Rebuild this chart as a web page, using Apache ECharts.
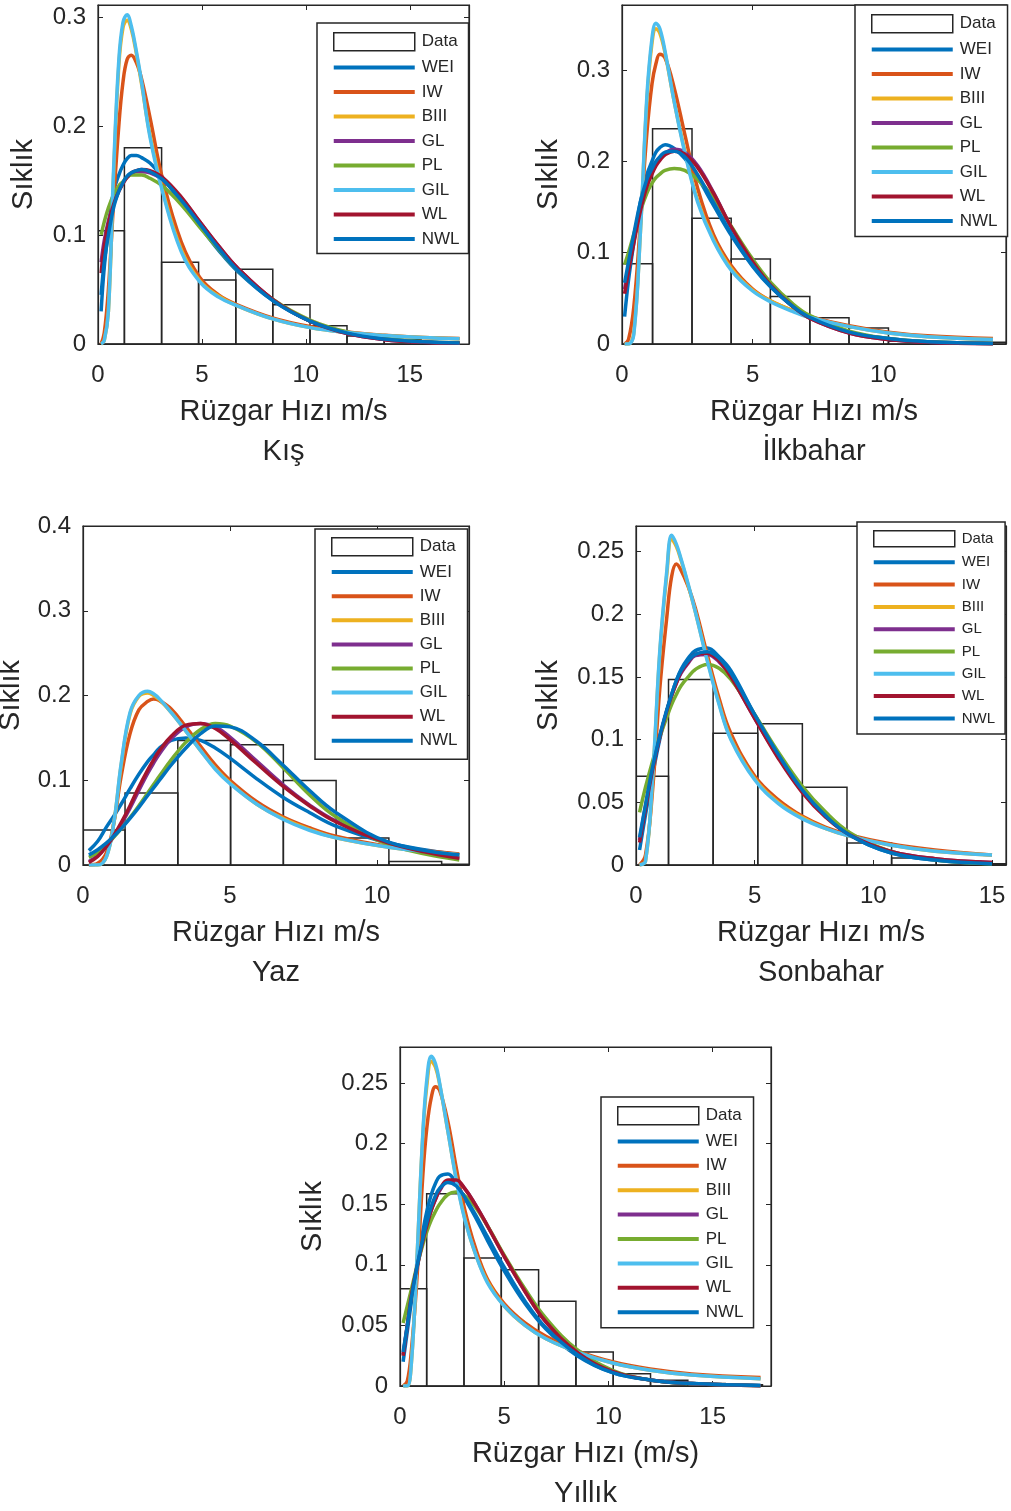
<!DOCTYPE html>
<html><head><meta charset="utf-8">
<script src="https://cdn.jsdelivr.net/npm/echarts@6/dist/echarts.min.js"></script>
<style>html,body{margin:0;padding:0;background:#fff}#c{width:1011px;height:1511px}</style>
</head><body><div id="c"></div>
<script>
// ---------- data ----------
const seriesNames = ['WEI','IW','BIII','GL','PL','GIL','WL','NWL'];
const xTicks = [0, 5, 10, 15];

// Kış
const kisBinEdges = [0, 1.27, 3.06, 4.84, 6.63, 8.41, 10.2, 11.98, 13.77, 15.55, 17.34];
const kisBinHeights = [0.104, 0.180, 0.075, 0.0587, 0.0685, 0.036, 0.0168, 0.0073, 0.004, 0.002];
const kisX   = [0.15,0.3,0.5,0.75,1.0,1.2,1.4,1.6,1.85,2.1,2.5,3.1,4.0,4.9,5.8,6.7,8.4,10.2,12.0,13.8,15.6,17.4];
const kisWEI = [0.03,0.07,0.105,0.14,0.155,0.164,0.17,0.173,0.173,0.171,0.166,0.153,0.13,0.108,0.086,0.067,0.04,0.021,0.010,0.0045,0.002,0.001];
const kisIW  = [0,0.01,0.05,0.13,0.2,0.24,0.261,0.265,0.258,0.243,0.208,0.152,0.094,0.061,0.045,0.036,0.024,0.016,0.011,0.008,0.006,0.005];
const kisBIII= [0,0.003,0.03,0.155,0.255,0.29,0.297,0.289,0.266,0.238,0.192,0.142,0.087,0.058,0.044,0.035,0.023,0.015,0.0105,0.0078,0.006,0.0048];
const kisGL  = [0.075,0.095,0.113,0.13,0.141,0.148,0.153,0.156,0.158,0.158,0.157,0.151,0.134,0.112,0.09,0.07,0.041,0.021,0.0095,0.004,0.0016,0.0006];
const kisPL  = [0.1,0.112,0.125,0.137,0.145,0.149,0.153,0.155,0.155,0.155,0.152,0.145,0.128,0.107,0.087,0.068,0.041,0.022,0.011,0.005,0.002,0.001];
const kisGIL = [0,0.003,0.03,0.16,0.26,0.295,0.302,0.292,0.268,0.24,0.19,0.14,0.085,0.057,0.043,0.035,0.023,0.015,0.0105,0.0078,0.006,0.0048];
const kisWL  = [0.065,0.09,0.11,0.128,0.14,0.147,0.153,0.157,0.159,0.16,0.159,0.153,0.135,0.112,0.09,0.07,0.041,0.021,0.0095,0.004,0.0016,0.0006];
const kisNWL = [0.045,0.075,0.1,0.125,0.14,0.148,0.154,0.157,0.159,0.16,0.158,0.151,0.132,0.11,0.088,0.068,0.04,0.021,0.010,0.0045,0.002,0.001];

// İlkbahar
const ilkBinEdges = [0, 1.17, 2.68, 4.18, 5.68, 7.19, 8.69, 10.2, 11.7, 13.2, 14.7];
const ilkBinHeights = [0.0879, 0.2356, 0.1375, 0.093, 0.052, 0.0288, 0.0175, 0.003, 0.002, 0.002];
const ilkX   = [0.1,0.25,0.45,0.7,0.95,1.15,1.3,1.45,1.65,2.0,2.4,2.9,3.5,4.2,5.0,5.7,6.5,7.2,8.7,10.2,11.7,14.2];
const ilkWEI = [0.03,0.07,0.11,0.155,0.185,0.2,0.21,0.215,0.218,0.214,0.203,0.182,0.152,0.118,0.085,0.062,0.042,0.03,0.013,0.006,0.0025,0.0005];
const ilkIW  = [0,0.005,0.04,0.13,0.23,0.285,0.307,0.317,0.313,0.28,0.23,0.17,0.12,0.085,0.06,0.047,0.037,0.03,0.02,0.013,0.009,0.006];
const ilkBIII= [0,0,0.012,0.12,0.265,0.33,0.345,0.34,0.318,0.265,0.212,0.157,0.115,0.082,0.059,0.047,0.037,0.029,0.019,0.012,0.008,0.005];
const ilkGL  = [0.06,0.083,0.113,0.147,0.174,0.188,0.197,0.203,0.209,0.213,0.21,0.195,0.166,0.127,0.09,0.064,0.042,0.028,0.012,0.005,0.002,0.0004];
const ilkPL  = [0.087,0.1,0.12,0.145,0.165,0.176,0.182,0.186,0.19,0.192,0.19,0.18,0.16,0.128,0.093,0.067,0.045,0.031,0.014,0.006,0.0025,0.0005];
const ilkGIL = [0,0,0.01,0.12,0.27,0.335,0.351,0.345,0.32,0.265,0.21,0.155,0.113,0.08,0.058,0.046,0.036,0.029,0.019,0.012,0.008,0.005];
const ilkWL  = [0.055,0.08,0.11,0.145,0.172,0.186,0.195,0.201,0.207,0.211,0.208,0.193,0.165,0.127,0.09,0.064,0.042,0.028,0.012,0.005,0.002,0.0004];
const ilkNWL = [0.067,0.09,0.12,0.155,0.18,0.192,0.2,0.205,0.21,0.211,0.205,0.185,0.155,0.12,0.086,0.063,0.042,0.029,0.013,0.006,0.0025,0.0005];

// Yaz
const yazBinEdges = [0, 1.43, 3.225, 5.02, 6.815, 8.61, 10.405, 12.2, 13.995];
const yazBinHeights = [0.0413, 0.085, 0.147, 0.142, 0.0996, 0.032, 0.004, 0.001];
const yazX   = [0.2,0.5,0.8,1.05,1.3,1.6,1.9,2.2,2.4,2.6,3.0,3.5,4.0,4.5,5.0,5.9,6.8,7.7,8.6,10.4,12.8];
const yazWEI = [0.017,0.028,0.045,0.058,0.072,0.09,0.107,0.122,0.13,0.138,0.147,0.15,0.147,0.138,0.126,0.102,0.08,0.062,0.046,0.026,0.012];
const yazIW  = [0,0.002,0.015,0.05,0.105,0.155,0.183,0.193,0.196,0.194,0.184,0.163,0.14,0.118,0.1,0.075,0.057,0.044,0.034,0.022,0.013];
const yazBIII= [0,0,0.01,0.05,0.118,0.178,0.199,0.203,0.2,0.195,0.18,0.158,0.135,0.114,0.097,0.072,0.055,0.042,0.032,0.021,0.012];
const yazGL  = [0.004,0.011,0.022,0.034,0.048,0.067,0.088,0.108,0.12,0.131,0.149,0.163,0.167,0.163,0.151,0.123,0.095,0.071,0.052,0.026,0.008];
const yazPL  = [0.009,0.015,0.024,0.033,0.043,0.056,0.07,0.085,0.095,0.105,0.124,0.145,0.16,0.167,0.164,0.145,0.115,0.083,0.057,0.024,0.006];
const yazGIL = [0,0,0.01,0.05,0.12,0.18,0.2,0.205,0.202,0.196,0.18,0.158,0.135,0.113,0.096,0.072,0.054,0.041,0.032,0.021,0.012];
const yazWL  = [0.003,0.01,0.022,0.035,0.05,0.07,0.092,0.112,0.124,0.135,0.152,0.165,0.167,0.161,0.148,0.12,0.093,0.07,0.051,0.026,0.008];
const yazNWL = [0.012,0.018,0.026,0.034,0.043,0.055,0.068,0.082,0.091,0.1,0.118,0.138,0.155,0.164,0.163,0.146,0.118,0.088,0.062,0.027,0.012];

// Sonbahar
const sonBinEdges = [0, 1.37, 3.25, 5.13, 7.01, 8.89, 10.77, 12.65, 14.53, 16.41];
const sonBinHeights = [0.0708, 0.148, 0.105, 0.1126, 0.062, 0.0176, 0.0056, 0.003, 0.001];
const sonX   = [0.15,0.4,0.7,1.0,1.3,1.5,1.7,1.9,2.2,2.5,3.0,3.5,4.0,5.0,6.0,7.0,8.0,9.0,10.7,12.6,15.0];
const sonWEI = [0.012,0.04,0.072,0.1,0.123,0.136,0.147,0.156,0.165,0.171,0.173,0.166,0.155,0.12,0.088,0.06,0.039,0.024,0.01,0.004,0.001];
const sonIW  = [0,0.008,0.06,0.14,0.198,0.23,0.24,0.235,0.222,0.205,0.168,0.133,0.105,0.071,0.052,0.039,0.03,0.024,0.017,0.012,0.008];
const sonBIII= [0,0.003,0.068,0.168,0.232,0.26,0.254,0.243,0.223,0.202,0.164,0.129,0.101,0.069,0.05,0.038,0.029,0.023,0.016,0.011,0.008];
const sonGL  = [0.02,0.047,0.077,0.102,0.123,0.135,0.145,0.153,0.161,0.167,0.168,0.162,0.15,0.117,0.086,0.059,0.039,0.024,0.011,0.005,0.002];
const sonPL  = [0.042,0.062,0.083,0.102,0.118,0.128,0.136,0.143,0.15,0.156,0.16,0.157,0.148,0.12,0.09,0.063,0.042,0.026,0.011,0.004,0.001];
const sonGIL = [0,0.003,0.07,0.17,0.235,0.263,0.256,0.244,0.224,0.202,0.163,0.128,0.1,0.068,0.049,0.037,0.029,0.023,0.016,0.011,0.008];
const sonWL  = [0.018,0.045,0.076,0.102,0.123,0.135,0.145,0.154,0.162,0.168,0.169,0.163,0.15,0.117,0.085,0.058,0.038,0.024,0.011,0.005,0.002];
const sonNWL = [0.022,0.048,0.078,0.103,0.124,0.136,0.147,0.155,0.163,0.168,0.17,0.165,0.153,0.12,0.088,0.06,0.039,0.024,0.01,0.004,0.001];

// Yıllık
const yilBinEdges = [0, 1.28, 3.07, 4.86, 6.65, 8.44, 10.23, 12.02, 13.81, 15.6, 17.39];
const yilBinHeights = [0.0803, 0.1587, 0.1056, 0.096, 0.070, 0.028, 0.0102, 0.0047, 0.002, 0.001];
const yilX   = [0.15,0.35,0.55,0.8,1.1,1.3,1.5,1.7,1.9,2.3,2.7,3.1,3.6,4.2,5.0,6.0,7.0,8.5,10.2,12.0,14.0,17.3];
const yilWEI = [0.02,0.045,0.07,0.097,0.128,0.145,0.158,0.167,0.173,0.175,0.167,0.155,0.14,0.12,0.095,0.068,0.047,0.025,0.011,0.005,0.002,0.0005];
const yilIW  = [0,0.004,0.03,0.085,0.175,0.215,0.238,0.247,0.244,0.218,0.18,0.146,0.115,0.088,0.068,0.052,0.041,0.029,0.02,0.014,0.01,0.007];
const yilBIII= [0,0,0.02,0.1,0.208,0.25,0.268,0.263,0.249,0.21,0.171,0.139,0.11,0.086,0.066,0.05,0.039,0.028,0.019,0.013,0.009,0.006];
const yilGL  = [0.026,0.05,0.074,0.096,0.12,0.134,0.145,0.154,0.161,0.169,0.169,0.163,0.15,0.132,0.107,0.078,0.053,0.028,0.012,0.005,0.002,0.0003];
const yilPL  = [0.052,0.066,0.08,0.098,0.117,0.128,0.137,0.144,0.15,0.158,0.16,0.157,0.148,0.132,0.108,0.08,0.056,0.03,0.013,0.005,0.002,0.0003];
const yilGIL = [0,0,0.02,0.1,0.21,0.255,0.272,0.266,0.25,0.21,0.17,0.138,0.11,0.085,0.066,0.05,0.039,0.028,0.019,0.013,0.009,0.006];
const yilWL  = [0.025,0.05,0.075,0.097,0.12,0.133,0.145,0.154,0.162,0.17,0.17,0.163,0.15,0.132,0.107,0.078,0.053,0.028,0.012,0.005,0.002,0.0003];
const yilNWL = [0.028,0.05,0.073,0.097,0.122,0.136,0.148,0.157,0.163,0.168,0.165,0.156,0.142,0.123,0.098,0.07,0.048,0.026,0.011,0.005,0.002,0.0005];

// ---------- layout / style ----------
const FONT = "'Liberation Sans', Arial, Helvetica, sans-serif";
const AX = '#262626';
const COLORS = {WEI:'#0072BD', IW:'#D95319', BIII:'#EDB120', GL:'#7E2F8E', PL:'#77AC30', GIL:'#4DBEEE', WL:'#A2142F', NWL:'#0072BD'};

const panels = [
  {x:kisX, edges:kisBinEdges, h:kisBinHeights, curves:[kisWEI,kisIW,kisBIII,kisGL,kisPL,kisGIL,kisWL,kisNWL],
   grid:{left:98, top:5, width:371, height:339}, xMax:17.85, yMax:0.311, yInt:0.1, yNameGap:60,
   xName:'Rüzgar Hızı m/s\nKış',
   lg:{left:317, top:23, ih:18, gap:7.5, fs:17, pad:[9,9,6,16]}},
  {x:ilkX, edges:ilkBinEdges, h:ilkBinHeights, curves:[ilkWEI,ilkIW,ilkBIII,ilkGL,ilkPL,ilkGIL,ilkWL,ilkNWL],
   grid:{left:622, top:5, width:384, height:339}, xMax:14.7, yMax:0.371, yInt:0.1, yNameGap:59,
   xName:'Rüzgar Hızı m/s\nİlkbahar',
   lg:{left:855, top:5, ih:18, gap:7.5, fs:17, pad:[9,10,7,16]}},
  {x:yazX, edges:yazBinEdges, h:yazBinHeights, curves:[yazWEI,yazIW,yazBIII,yazGL,yazPL,yazGIL,yazWL,yazNWL],
   grid:{left:83, top:526, width:386, height:339}, xMax:13.13, yMax:0.4, yInt:0.1, yNameGap:58,
   xName:'Rüzgar Hızı m/s\nYaz',
   lg:{left:315, top:529, ih:18, gap:7.1, fs:17, pad:[8,10,10,16]}},
  {x:sonX, edges:sonBinEdges, h:sonBinHeights, curves:[sonWEI,sonIW,sonBIII,sonGL,sonPL,sonGIL,sonWL,sonNWL],
   grid:{left:636, top:526, width:370, height:339}, xMax:15.59, yMax:0.2704, yInt:0.05, yNameGap:73,
   xName:'Rüzgar Hızı m/s\nSonbahar',
   lg:{left:857, top:522, ih:16, gap:7.3, fs:15, pad:[8,10,8,16]}},
  {x:yilX, edges:yilBinEdges, h:yilBinHeights, curves:[yilWEI,yilIW,yilBIII,yilGL,yilPL,yilGIL,yilWL,yilNWL],
   grid:{left:400, top:1047, width:371, height:339}, xMax:17.8, yMax:0.2797, yInt:0.05, yNameGap:73,
   xName:'Rüzgar Hızı (m/s)\nYıllık',
   lg:{left:601, top:1097, ih:18, gap:7.4, fs:17, pad:[9,10,7,16]}}
];

function multipleFormatter(step) {
  return function (v) {
    const k = v / step;
    if (Math.abs(k - Math.round(k)) > 1e-6) return '';
    return String(Math.round(v * 1000) / 1000);
  };
}

const LINE_ICON = 'path://M0 0H81V4H0Z';
const grids = [], xAxes = [], yAxes = [], series = [], legends = [];
panels.forEach((p, i) => {
  grids.push(Object.assign({show:true, borderColor:AX, borderWidth:1.2, backgroundColor:'transparent', containLabel:false, outerBoundsMode:'none'}, p.grid));
  const tick = {show:true, inside:true, length:5, lineStyle:{color:AX, width:1}};
  const line = {show:true, onZero:false, lineStyle:{color:AX, width:1.2}};
  const xb = {type:'value', gridIndex:i, min:0, max:p.xMax, interval:5, splitLine:{show:false}, axisTick:tick, axisLine:line};
  xAxes.push(Object.assign({}, xb, {position:'bottom',
    axisLabel:{show:true, margin:19, fontSize:24, color:AX, fontFamily:FONT, formatter:multipleFormatter(5), showMinLabel:true, showMaxLabel:true, hideOverlap:false},
    name:p.xName, nameLocation:'middle', nameGap:48,
    nameTextStyle:{fontSize:29, color:AX, fontFamily:FONT, lineHeight:40}}));
  xAxes.push(Object.assign({}, xb, {position:'top', axisLabel:{show:false}}));
  const yb = {type:'value', gridIndex:i, min:0, max:p.yMax, interval:p.yInt, splitLine:{show:false}, axisTick:tick, axisLine:line};
  yAxes.push(Object.assign({}, yb, {position:'left',
    axisLabel:{show:true, margin:12, fontSize:24, color:AX, fontFamily:FONT, formatter:multipleFormatter(p.yInt), showMinLabel:true, showMaxLabel:true, hideOverlap:false},
    name:'Sıklık', nameLocation:'middle', nameGap:p.yNameGap, nameRotate:90,
    nameTextStyle:{fontSize:29, color:AX, fontFamily:FONT}}));
  yAxes.push(Object.assign({}, yb, {position:'right', axisLabel:{show:false}}));

  series.push({
    type:'custom', name:'Data', xAxisIndex:2*i, yAxisIndex:2*i, clip:true, z:1,
    data:p.h.map((h, k) => [p.edges[k], p.edges[k+1], h]),
    encode:{x:[0,1], y:2},
    renderItem:function (params, api) {
      const a = api.coord([api.value(0), api.value(2)]);
      const b = api.coord([api.value(1), 0]);
      return {type:'rect', shape:{x:a[0], y:a[1], width:b[0]-a[0], height:b[1]-a[1]},
              style:{fill:'none', stroke:AX, lineWidth:1.5}};
    }
  });
  seriesNames.forEach((n, k) => {
    series.push({
      type:'line', name:n, xAxisIndex:2*i, yAxisIndex:2*i, z:2+k,
      data:p.x.map((xv, j) => [xv, p.curves[k][j]]),
      smooth:0.4, showSymbol:false, symbol:'none', clip:true,
      lineStyle:{color:COLORS[n], width:3.5}, itemStyle:{color:COLORS[n]},
      emphasis:{disabled:true}
    });
  });
  legends.push({
    show:true, orient:'vertical', left:p.lg.left, top:p.lg.top,
    itemWidth:81, itemHeight:p.lg.ih, itemGap:p.lg.gap, padding:p.lg.pad,
    backgroundColor:'#fff', borderColor:AX, borderWidth:1.5, borderRadius:0,
    selectedMode:false, z:20, symbolKeepAspect:true,
    textStyle:{fontSize:p.lg.fs, color:AX, fontFamily:FONT, padding:[0,0,0,2]},
    data:[{name:'Data', icon:'rect', itemStyle:{color:'#fff', borderColor:AX, borderWidth:1.5}}]
      .concat(seriesNames.map(n => ({name:n, icon:LINE_ICON, itemStyle:{color:COLORS[n], borderWidth:0}})))
  });
});

const chart = echarts.init(document.getElementById('c'), null, {renderer:'canvas'});
chart.setOption({
  animation:false,
  backgroundColor:'#fff',
  textStyle:{fontFamily:FONT},
  grid:grids, xAxis:xAxes, yAxis:yAxes, legend:legends, series:series
});
</script></body></html>
